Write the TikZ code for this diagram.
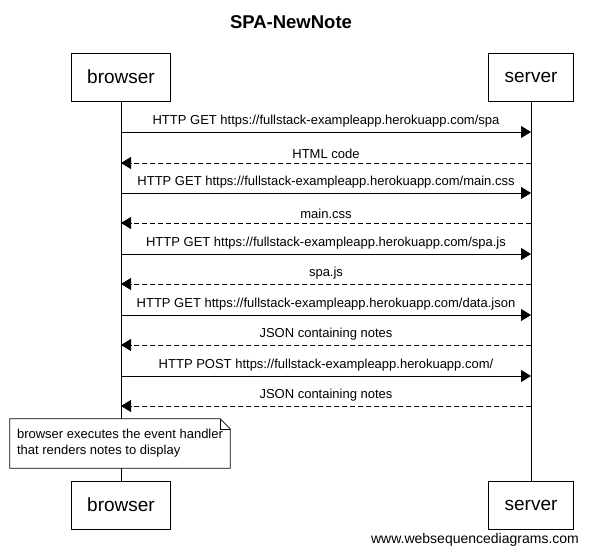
\documentclass[tikz,border=0pt]{standalone}
\usepackage{fontspec}
\setmainfont{Liberation Sans}
\usetikzlibrary{arrows.meta,positioning}

\begin{document}
\begin{tikzpicture}[x=1pt,y=-1pt,
    actor/.style={draw,line width=0.8pt,minimum height=48pt,inner xsep=16pt,font=\fontsize{19}{22}\selectfont},
    msg/.style={line width=0.8pt,-{Triangle[length=10pt,width=12pt]}},
    reply/.style={msg,dash pattern=on 5pt off 3pt},
    lbl/.style={above=1pt,font=\fontsize{13}{15}\selectfont},
    notebox/.style={fill=white,align=left,minimum width=220pt,minimum height=49pt,inner xsep=7pt,font=\fontsize{13}{16}\selectfont}]
  \useasboundingbox (0,0) rectangle (589,555);
  % title
  \node[font=\bfseries\fontsize{18.5}{21}\selectfont] (title) at (291,22) {SPA-NewNote};
  % participants, top and bottom
  \node[actor] (browser) at (121,77) {browser};
  \node[actor] (server) at (531,77) {server};
  \node[actor] (browser2) at (121,505) {browser};
  \node[actor] (server2) at (531,505) {server};
  % lifelines
  \draw[line width=0.8pt] (browser) -- (browser2);
  \draw[line width=0.8pt] (server) -- (server2);
  % message rows on the lifelines
  \foreach \i/\y in {1/132,2/163,3/193,4/223,5/254,6/284,7/315,8/345,9/376,10/406} {
    \coordinate (b\i) at (browser |- 0,\y);
    \coordinate (s\i) at (server |- 0,\y);
  }
  \draw[msg] (b1) -- node[lbl] {HTTP GET https://fullstack-exampleapp.herokuapp.com/spa} (s1);
  \draw[reply] (s2) -- node[lbl] {HTML code} (b2);
  \draw[msg] (b3) -- node[lbl] {HTTP GET https://fullstack-exampleapp.herokuapp.com/main.css} (s3);
  \draw[reply] (s4) -- node[lbl] {main.css} (b4);
  \draw[msg] (b5) -- node[lbl] {HTTP GET https://fullstack-exampleapp.herokuapp.com/spa.js} (s5);
  \draw[reply] (s6) -- node[lbl] {spa.js} (b6);
  \draw[msg] (b7) -- node[lbl] {HTTP GET https://fullstack-exampleapp.herokuapp.com/data.json} (s7);
  \draw[reply] (s8) -- node[lbl] {JSON containing notes} (b8);
  \draw[msg] (b9) -- node[lbl] {HTTP POST https://fullstack-exampleapp.herokuapp.com/} (s9);
  \draw[reply] (s10) -- node[lbl] {JSON containing notes} (b10);
  % note over the browser
  \node[notebox] (note) at (120,443.5) {browser executes the event handler\\that renders notes to display};
  \draw[line width=0.8pt] (note.north west) -- ([xshift=-10pt]note.north east) -- ([yshift=-10pt]note.north east) -- (note.south east) -- (note.south west) -- cycle;
  \draw[line width=0.6pt] ([xshift=-10pt]note.north east) |- ([yshift=-10pt]note.north east);
  % watermark
  \node[font=\fontsize{14}{16}\selectfont] (mark) at (475,540) {www.websequencediagrams.com};
\end{tikzpicture}
\end{document}
